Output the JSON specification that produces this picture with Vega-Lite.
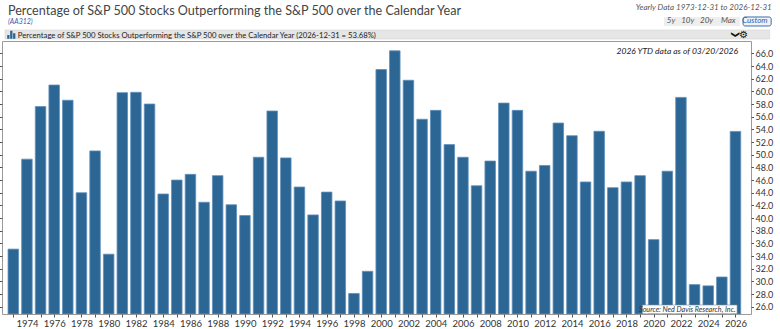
{
  "$schema": "https://vega.github.io/schema/vega-lite/v6.json",
  "width": 749,
  "height": 273,
  "autosize": {"type": "none"},
  "padding": {"left": 2, "top": 41, "right": 29, "bottom": 15},
  "background": "white",
  "config": {
    "font": "Lato",
    "view": {"stroke": "#9a9a9a", "strokeWidth": 1},
    "axis": {"grid": false}
  },
  "datasets": {
    "main": [
      {"year": 1973, "value": 35.1}, {"year": 1974, "value": 49.3}, {"year": 1975, "value": 57.6},
      {"year": 1976, "value": 61.0}, {"year": 1977, "value": 58.6}, {"year": 1978, "value": 44.0},
      {"year": 1979, "value": 50.6}, {"year": 1980, "value": 34.3}, {"year": 1981, "value": 59.8},
      {"year": 1982, "value": 59.85}, {"year": 1983, "value": 58.0}, {"year": 1984, "value": 43.8},
      {"year": 1985, "value": 46.0}, {"year": 1986, "value": 46.9}, {"year": 1987, "value": 42.5},
      {"year": 1988, "value": 46.7}, {"year": 1989, "value": 42.1}, {"year": 1990, "value": 40.4},
      {"year": 1991, "value": 49.6}, {"year": 1992, "value": 56.9}, {"year": 1993, "value": 49.5},
      {"year": 1994, "value": 44.9}, {"year": 1995, "value": 40.5}, {"year": 1996, "value": 44.1},
      {"year": 1997, "value": 42.7}, {"year": 1998, "value": 28.1}, {"year": 1999, "value": 31.6},
      {"year": 2000, "value": 63.45}, {"year": 2001, "value": 66.4}, {"year": 2002, "value": 61.75},
      {"year": 2003, "value": 55.6}, {"year": 2004, "value": 57.0}, {"year": 2005, "value": 51.6},
      {"year": 2006, "value": 49.6}, {"year": 2007, "value": 45.1}, {"year": 2008, "value": 49.0},
      {"year": 2009, "value": 58.15}, {"year": 2010, "value": 57.0}, {"year": 2011, "value": 47.4},
      {"year": 2012, "value": 48.3}, {"year": 2013, "value": 55.0}, {"year": 2014, "value": 53.0},
      {"year": 2015, "value": 45.7}, {"year": 2016, "value": 53.7}, {"year": 2017, "value": 44.8},
      {"year": 2018, "value": 45.7}, {"year": 2019, "value": 46.7}, {"year": 2020, "value": 36.6},
      {"year": 2021, "value": 47.4}, {"year": 2022, "value": 59.05}, {"year": 2023, "value": 29.5},
      {"year": 2024, "value": 29.3}, {"year": 2025, "value": 30.7}, {"year": 2026, "value": 53.68}
    ]
  },
  "layer": [
    {
      "data": {"name": "main"},
      "mark": {"type": "bar", "fill": "#2c6695", "stroke": "#5f8fba", "strokeWidth": 0.8, "size": 10.5, "clip": true},
      "encoding": {
        "x": {
          "field": "year", "type": "quantitative",
          "scale": {"domain": [1972.537, 2026.774], "nice": false, "zero": false},
          "axis": {
            "orient": "bottom", "zindex": 1,
            "values": [1973,1974,1975,1976,1977,1978,1979,1980,1981,1982,1983,1984,1985,1986,1987,1988,1989,1990,1991,1992,1993,1994,1995,1996,1997,1998,1999,2000,2001,2002,2003,2004,2005,2006,2007,2008,2009,2010,2011,2012,2013,2014,2015,2016,2017,2018,2019,2020,2021,2022,2023,2024,2025,2026],
            "labelExpr": "datum.value % 2 == 0 ? format(datum.value, 'd') : ''",
            "title": null, "tickSize": 3, "tickColor": "#555", "domain": false,
            "labelFontSize": 9.5, "labelColor": "#333", "labelPadding": 1.5,
            "labelFlush": false, "labelOverlap": false, "grid": false
          }
        },
        "y": {
          "field": "value", "type": "quantitative",
          "scale": {"domain": [24.86, 67.95], "nice": false, "zero": false},
          "axis": {
            "orient": "right", "zindex": 1,
            "values": [26,28,30,32,34,36,38,40,42,44,46,48,50,52,54,56,58,60,62,64,66],
            "format": ".1f", "title": null, "tickSize": 2.5, "tickColor": "#555", "domain": false,
            "labelFontSize": 9, "labelColor": "#333", "labelPadding": 1.5, "grid": false, "labelFlush": false, "labelOverlap": false
          }
        },
        "y2": {"datum": 24.86}
      }
    },
    {
      "data": {"values": [{}]},
      "mark": {"type": "rect", "fill": "#e6e6e6", "stroke": "#cfcfcf", "strokeWidth": 0.5},
      "encoding": {
        "x": {"datum": 1972.39, "type": "quantitative", "axis": null, "scale": {"domain": [1972.537, 2026.774], "nice": false, "zero": false}},
        "x2": {"datum": 2028.51},
        "y": {"datum": 69.69, "type": "quantitative", "axis": null, "scale": {"domain": [24.86, 67.95], "nice": false, "zero": false}},
        "y2": {"datum": 68.27}
      }
    },
    {
      "data": {"values": [{}]},
      "mark": {"type": "rect", "fill": "white", "stroke": "#8a8a8a", "strokeWidth": 0.6},
      "encoding": {
        "x": {"datum": 2019.17, "type": "quantitative", "axis": null, "scale": {"domain": [1972.537, 2026.774], "nice": false, "zero": false}},
        "x2": {"datum": 2026.12},
        "y": {
          "datum": 26.28, "type": "quantitative",
          "scale": {"domain": [24.86, 67.95], "nice": false, "zero": false},
          "axis": {
            "orient": "left", "zindex": 1,
            "values": [26,28,30,32,34,36,38,40,42,44,46,48,50,52,54,56,58,60,62,64,66],
            "labels": false, "title": null, "tickSize": 2.5, "tickColor": "#555", "domain": false, "grid": false
          }
        },
        "y2": {"datum": 24.9}
      }
    },
    {
      "data": {"values": [{}]},
      "mark": {"type": "text", "text": "Source:   Ned Davis Research, Inc.", "align": "right", "baseline": "alphabetic", "font": "Lato", "fontSize": 7.2, "fontStyle": "italic", "color": "#333"},
      "encoding": {
        "x": {"datum": 2026.01, "type": "quantitative", "axis": null, "scale": {"domain": [1972.537, 2026.774], "nice": false, "zero": false}},
        "y": {"datum": 25.2, "type": "quantitative", "axis": null, "scale": {"domain": [24.86, 67.95], "nice": false, "zero": false}}
      }
    },
    {
      "data": {"values": [{}]},
      "mark": {"type": "text", "text": "2026 YTD data as of 03/20/2026", "align": "right", "baseline": "alphabetic", "font": "Lato", "fontSize": 8.5, "fontStyle": "italic", "color": "#222"},
      "encoding": {
        "x": {"datum": 2026.19, "type": "quantitative", "axis": null, "scale": {"domain": [1972.537, 2026.774], "nice": false, "zero": false}},
        "y": {"datum": 65.9, "type": "quantitative", "axis": null, "scale": {"domain": [24.86, 67.95], "nice": false, "zero": false}}
      }
    },
    {
      "data": {"values": [{}]},
      "mark": {"type": "point", "shape": "M-1,1V0.1H-0.45V1Z M-0.3,1V-0.9H0.25V1Z M0.4,1V-0.3H0.95V1Z", "size": 70, "filled": true, "fill": "#2c6695", "stroke": null, "opacity": 1},
      "encoding": {
        "x": {"datum": 1972.86, "type": "quantitative", "axis": null, "scale": {"domain": [1972.537, 2026.774], "nice": false, "zero": false}},
        "y": {"datum": 68.98, "type": "quantitative", "axis": null, "scale": {"domain": [24.86, 67.95], "nice": false, "zero": false}}
      }
    },
    {
      "data": {"values": [{}]},
      "mark": {"type": "text", "text": "Percentage of S&P 500 Stocks Outperforming the S&P 500 over the Calendar Year (2026-12-31 = 53.68%)", "align": "left", "baseline": "alphabetic", "font": "Lato", "fontSize": 7.7, "color": "#222"},
      "encoding": {
        "x": {"datum": 1973.33, "type": "quantitative", "axis": null, "scale": {"domain": [1972.537, 2026.774], "nice": false, "zero": false}},
        "y": {"datum": 68.5, "type": "quantitative", "axis": null, "scale": {"domain": [24.86, 67.95], "nice": false, "zero": false}}
      }
    },
    {
      "data": {"values": [{}]},
      "mark": {"type": "text", "text": "Percentage of S&P 500 Stocks Outperforming the S&P 500 over the Calendar Year", "align": "left", "baseline": "alphabetic", "font": "Lato", "fontSize": 12.6, "color": "#444"},
      "encoding": {
        "x": {"datum": 1972.61, "type": "quantitative", "axis": null, "scale": {"domain": [1972.537, 2026.774], "nice": false, "zero": false}},
        "y": {"datum": 72.05, "type": "quantitative", "axis": null, "scale": {"domain": [24.86, 67.95], "nice": false, "zero": false}}
      }
    },
    {
      "data": {"values": [{}]},
      "mark": {"type": "text", "text": "(AA312)", "align": "left", "baseline": "alphabetic", "font": "Lato", "fontSize": 7, "fontStyle": "italic", "color": "#3a5bb0"},
      "encoding": {
        "x": {"datum": 1972.61, "type": "quantitative", "axis": null, "scale": {"domain": [1972.537, 2026.774], "nice": false, "zero": false}},
        "y": {"datum": 70.63, "type": "quantitative", "axis": null, "scale": {"domain": [24.86, 67.95], "nice": false, "zero": false}}
      }
    },
    {
      "data": {"values": [{}]},
      "mark": {"type": "text", "text": "❯", "angle": 90, "align": "center", "baseline": "middle", "font": "DejaVu Sans", "fontSize": 8.5, "fontWeight": "bold", "color": "#111"},
      "encoding": {
        "x": {"datum": 2026.05, "type": "quantitative", "axis": null, "scale": {"domain": [1972.537, 2026.774], "nice": false, "zero": false}},
        "y": {"datum": 68.95, "type": "quantitative", "axis": null, "scale": {"domain": [24.86, 67.95], "nice": false, "zero": false}}
      }
    },
    {
      "data": {"values": [{}]},
      "mark": {"type": "text", "text": "⚙", "align": "center", "baseline": "middle", "font": "DejaVu Sans", "fontSize": 10, "fontWeight": "bold", "color": "#111"},
      "encoding": {
        "x": {"datum": 2026.6, "type": "quantitative", "axis": null, "scale": {"domain": [1972.537, 2026.774], "nice": false, "zero": false}},
        "y": {"datum": 68.95, "type": "quantitative", "axis": null, "scale": {"domain": [24.86, 67.95], "nice": false, "zero": false}}
      }
    },
    {
      "data": {"values": [{}]},
      "mark": {"type": "text", "text": "Yearly Data 1973-12-31 to 2026-12-31", "align": "right", "baseline": "alphabetic", "font": "Lato", "fontSize": 8, "fontStyle": "italic", "color": "#555"},
      "encoding": {
        "x": {"datum": 2028.66, "type": "quantitative", "axis": null, "scale": {"domain": [1972.537, 2026.774], "nice": false, "zero": false}},
        "y": {"datum": 72.84, "type": "quantitative", "axis": null, "scale": {"domain": [24.86, 67.95], "nice": false, "zero": false}}
      }
    },
    {
      "data": {"values": [{}]},
      "mark": {"type": "rect", "fill": "#eeeeee", "stroke": null},
      "encoding": {
        "x": {"datum": 2020.76, "type": "quantitative", "axis": null, "scale": {"domain": [1972.537, 2026.774], "nice": false, "zero": false}},
        "x2": {"datum": 2026.34},
        "y": {"datum": 71.74, "type": "quantitative", "axis": null, "scale": {"domain": [24.86, 67.95], "nice": false, "zero": false}},
        "y2": {"datum": 70.32}
      }
    },
    {
      "data": {"values": [{}]},
      "mark": {"type": "rect", "fill": "#f2f2f2", "stroke": "#3a6fb0", "strokeWidth": 1, "cornerRadius": 2},
      "encoding": {
        "x": {"datum": 2026.56, "type": "quantitative", "axis": null, "scale": {"domain": [1972.537, 2026.774], "nice": false, "zero": false}},
        "x2": {"datum": 2028.62},
        "y": {"datum": 71.74, "type": "quantitative", "axis": null, "scale": {"domain": [24.86, 67.95], "nice": false, "zero": false}},
        "y2": {"datum": 70.32}
      }
    },
    {
      "data": {"values": [{}]},
      "mark": {"type": "text", "text": "5y", "align": "center", "baseline": "alphabetic", "font": "Lato", "fontSize": 8, "fontStyle": "italic", "color": "#555"},
      "encoding": {
        "x": {"datum": 2021.27, "type": "quantitative", "axis": null, "scale": {"domain": [1972.537, 2026.774], "nice": false, "zero": false}},
        "y": {"datum": 70.75, "type": "quantitative", "axis": null, "scale": {"domain": [24.86, 67.95], "nice": false, "zero": false}}
      }
    },
    {
      "data": {"values": [{}]},
      "mark": {"type": "text", "text": "10y", "align": "center", "baseline": "alphabetic", "font": "Lato", "fontSize": 8, "fontStyle": "italic", "color": "#555"},
      "encoding": {
        "x": {"datum": 2022.5, "type": "quantitative", "axis": null, "scale": {"domain": [1972.537, 2026.774], "nice": false, "zero": false}},
        "y": {"datum": 70.75, "type": "quantitative", "axis": null, "scale": {"domain": [24.86, 67.95], "nice": false, "zero": false}}
      }
    },
    {
      "data": {"values": [{}]},
      "mark": {"type": "text", "text": "20y", "align": "center", "baseline": "alphabetic", "font": "Lato", "fontSize": 8, "fontStyle": "italic", "color": "#555"},
      "encoding": {
        "x": {"datum": 2023.88, "type": "quantitative", "axis": null, "scale": {"domain": [1972.537, 2026.774], "nice": false, "zero": false}},
        "y": {"datum": 70.75, "type": "quantitative", "axis": null, "scale": {"domain": [24.86, 67.95], "nice": false, "zero": false}}
      }
    },
    {
      "data": {"values": [{}]},
      "mark": {"type": "text", "text": "Max", "align": "center", "baseline": "alphabetic", "font": "Lato", "fontSize": 8, "fontStyle": "italic", "color": "#555"},
      "encoding": {
        "x": {"datum": 2025.47, "type": "quantitative", "axis": null, "scale": {"domain": [1972.537, 2026.774], "nice": false, "zero": false}},
        "y": {"datum": 70.75, "type": "quantitative", "axis": null, "scale": {"domain": [24.86, 67.95], "nice": false, "zero": false}}
      }
    },
    {
      "data": {"values": [{}]},
      "mark": {"type": "text", "text": "Custom", "align": "center", "baseline": "alphabetic", "font": "Lato", "fontSize": 8, "fontStyle": "italic", "color": "#3a5bb0"},
      "encoding": {
        "x": {"datum": 2027.42, "type": "quantitative", "axis": null, "scale": {"domain": [1972.537, 2026.774], "nice": false, "zero": false}},
        "y": {"datum": 70.75, "type": "quantitative", "axis": null, "scale": {"domain": [24.86, 67.95], "nice": false, "zero": false}}
      }
    }
  ],
  "resolve": {"axis": {"x": "independent", "y": "independent"}}
}
